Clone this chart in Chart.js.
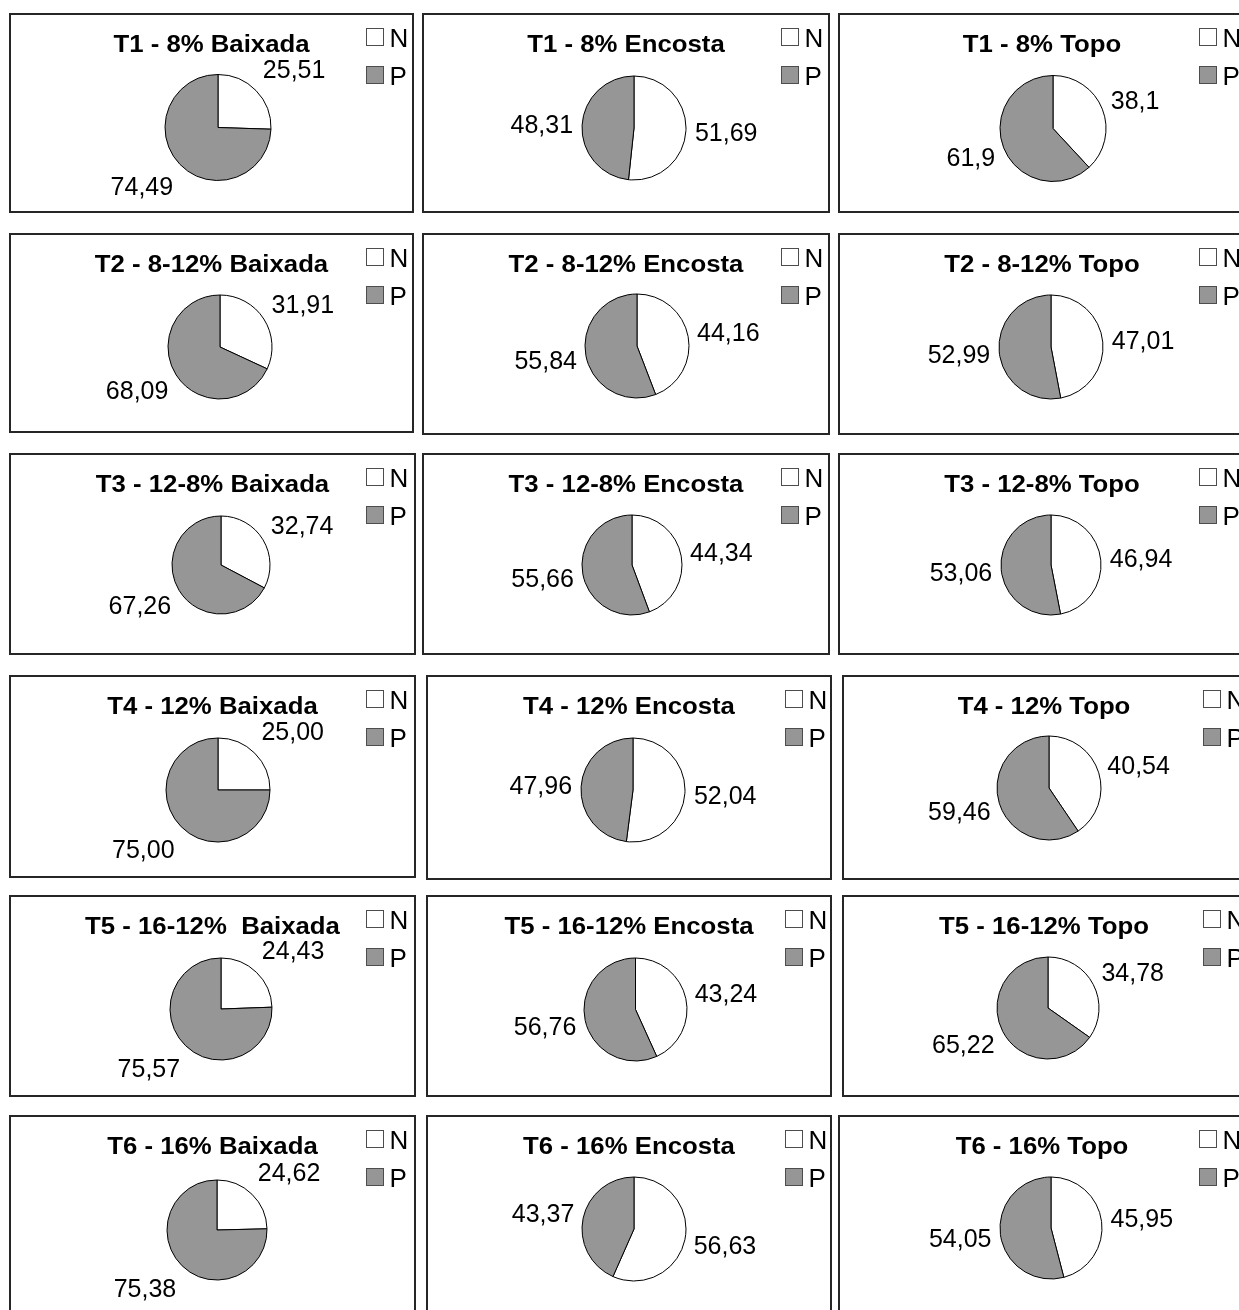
<!DOCTYPE html>
<html>
<head>
<meta charset="utf-8">
<script src="https://cdn.jsdelivr.net/npm/chart.js@4.4.1/dist/chart.umd.min.js"></script>
<style>
  html, body { margin: 0; padding: 0; background: #fff; }
  body { position: relative; width: 1239px; height: 1310px; overflow: hidden; }
  .panel { position: absolute; box-sizing: border-box; border: 2px solid #262626; background: #fff; }
  canvas.pie { position: absolute; }
</style>
</head>
<body>
<script>
// Treatments (rows) and slope positions (columns)
const treatments = ['T1 - 8%', 'T2 - 8-12%', 'T3 - 12-8%', 'T4 - 12%', 'T5 - 16-12%', 'T6 - 16%'];
const positions = ['Baixada', 'Encosta', 'Topo'];
const titles = [
  ['T1 - 8% Baixada', 'T1 - 8% Encosta', 'T1 - 8% Topo'],
  ['T2 - 8-12% Baixada', 'T2 - 8-12% Encosta', 'T2 - 8-12% Topo'],
  ['T3 - 12-8% Baixada', 'T3 - 12-8% Encosta', 'T3 - 12-8% Topo'],
  ['T4 - 12% Baixada', 'T4 - 12% Encosta', 'T4 - 12% Topo'],
  ['T5 - 16-12%  Baixada', 'T5 - 16-12% Encosta', 'T5 - 16-12% Topo'],
  ['T6 - 16% Baixada', 'T6 - 16% Encosta', 'T6 - 16% Topo']
];
const seriesLabels = ['N', 'P'];

// Percentages of N and P in each panel
const valuesN = [
  [25.51, 51.69, 38.1],
  [31.91, 44.16, 47.01],
  [32.74, 44.34, 46.94],
  [25.00, 52.04, 40.54],
  [24.43, 43.24, 34.78],
  [24.62, 56.63, 45.95]
];
const valuesP = [
  [74.49, 48.31, 61.9],
  [68.09, 55.84, 52.99],
  [67.26, 55.66, 53.06],
  [75.00, 47.96, 59.46],
  [75.57, 56.76, 65.22],
  [75.38, 43.37, 54.05]
];
// decimals shown on the value labels
const labelDecimals = [
  [2, 2, 1],
  [2, 2, 2],
  [2, 2, 2],
  [2, 2, 2],
  [2, 2, 2],
  [2, 2, 2]
];

// ---- layout (page pixels) ----
// panel frames: [left, top, right, bottom]
const frames = [
  [[9, 13, 414, 213], [422, 13, 830, 213], [838, 13, 1248, 213]],
  [[9, 233, 414, 433], [422, 233, 830, 435], [838, 233, 1248, 435]],
  [[9, 453, 416, 655], [422, 453, 830, 655], [838, 453, 1248, 655]],
  [[9, 675, 416, 878], [426, 675, 832, 880], [842, 675, 1248, 880]],
  [[9, 895, 416, 1097], [426, 895, 832, 1097], [842, 895, 1248, 1097]],
  [[9, 1115, 416, 1322], [426, 1115, 832, 1322], [838, 1115, 1248, 1322]]
];
// pie centre and radius: [cx, cy, r]
const pieGeom = [
  [[218, 127.5, 53], [634, 128, 52], [1053, 128.5, 53]],
  [[220, 347, 52], [637, 346, 52], [1051, 347, 52]],
  [[221, 565, 49], [632, 565, 50], [1051, 565, 50]],
  [[218, 790, 52], [633, 790, 52], [1049, 788, 52]],
  [[221, 1009, 51], [635.5, 1009.5, 51.5], [1048, 1008, 51]],
  [[217, 1230, 50], [634, 1229, 52], [1051, 1228, 51]]
];
// legend x offset from frame left, per column
const legendX = [357.5, 359.5, 361.5];

const FONT = '"Liberation Sans", Arial, Helvetica, sans-serif';
const GREY = '#969696';

function fmt(v, d) {
  return v.toFixed(d).replace('.', ',');
}

// title, legend and outside value labels
const panelText = {
  id: 'panelText',
  afterDraw(chart, args, opts) {
    const ctx = chart.ctx;
    ctx.save();
    ctx.fillStyle = '#000';

    // title
    ctx.font = 'bold 23px ' + FONT;
    ctx.textAlign = 'center';
    ctx.textBaseline = 'alphabetic';
    ctx.save();
    ctx.translate(opts.frameW / 2, 39);
    ctx.scale(1.12, 1);
    ctx.fillText(opts.title, 0, 0);
    ctx.restore();

    // legend
    const ds = chart.data.datasets[0];
    chart.data.labels.forEach((lab, i) => {
      const y = 15.5 + i * 38;
      const x = opts.legendX;
      ctx.fillStyle = ds.backgroundColor[i];
      ctx.fillRect(x, y, 17, 17);
      ctx.strokeStyle = '#4d4d4d';
      ctx.lineWidth = 1;
      ctx.strokeRect(x, y, 17, 17);
      ctx.fillStyle = '#000';
      ctx.font = '26px ' + FONT;
      ctx.textAlign = 'left';
      ctx.fillText(lab, x + 23, y + 18);
    });

    // value labels outside each slice
    ctx.font = '25px ' + FONT;
    ctx.textAlign = 'center';
    const meta = chart.getDatasetMeta(0);
    const capH = 18;
    meta.data.forEach((arc, i) => {
      const p = arc.getProps(['x', 'y', 'startAngle', 'endAngle', 'outerRadius'], true);
      const mid = (p.startAngle + p.endAngle) / 2;
      const dx = Math.cos(mid), dy = Math.sin(mid);
      const m = Math.max(Math.abs(dx), Math.abs(dy));
      const txt = fmt(ds.data[i], opts.decimals);
      const w = ctx.measureText(txt).width;
      const e = p.outerRadius + 8;
      const lx = p.x + dx * e + (dx / m) * (w / 2 + 1);
      const ly = p.y + dy * e + (dy / m) * 17;
      ctx.fillStyle = '#000';
      ctx.fillText(txt, lx, ly + capH / 2);
    });
    ctx.restore();
  }
};

treatments.forEach((tr, ri) => {
  positions.forEach((pos, ci) => {
    const [l, t, r, b] = frames[ri][ci];
    const W = r - l, H = b - t;
    const frame = document.createElement('div');
    frame.className = 'panel';
    frame.style.left = l + 'px';
    frame.style.top = t + 'px';
    frame.style.width = W + 'px';
    frame.style.height = H + 'px';
    document.body.appendChild(frame);

    const cv = document.createElement('canvas');
    cv.className = 'pie';
    cv.width = W; cv.height = H;
    cv.style.left = l + 'px';
    cv.style.top = t + 'px';
    cv.style.width = W + 'px';
    cv.style.height = H + 'px';
    document.body.appendChild(cv);

    const [cx, cy, rad] = pieGeom[ri][ci];
    const s = rad + 0.5;
    const px = cx - l, py = cy - t;

    new Chart(cv, {
      type: 'pie',
      data: {
        labels: seriesLabels,
        datasets: [{
          data: [valuesN[ri][ci], valuesP[ri][ci]],
          backgroundColor: ['#ffffff', GREY],
          borderColor: '#000000',
          borderWidth: 1
        }]
      },
      options: {
        responsive: false,
        animation: false,
        devicePixelRatio: 1,
        events: [],
        layout: {
          padding: { left: px - s, right: W - (px + s), top: py - s, bottom: H - (py + s) }
        },
        plugins: {
          legend: { display: false },
          title: { display: false },
          tooltip: { enabled: false },
          panelText: {
            title: titles[ri][ci],
            frameW: W - (ci === 2 ? 2 : 0),
            decimals: labelDecimals[ri][ci],
            legendX: legendX[ci]
          }
        }
      },
      plugins: [panelText]
    });
  });
});
</script>
</body>
</html>
